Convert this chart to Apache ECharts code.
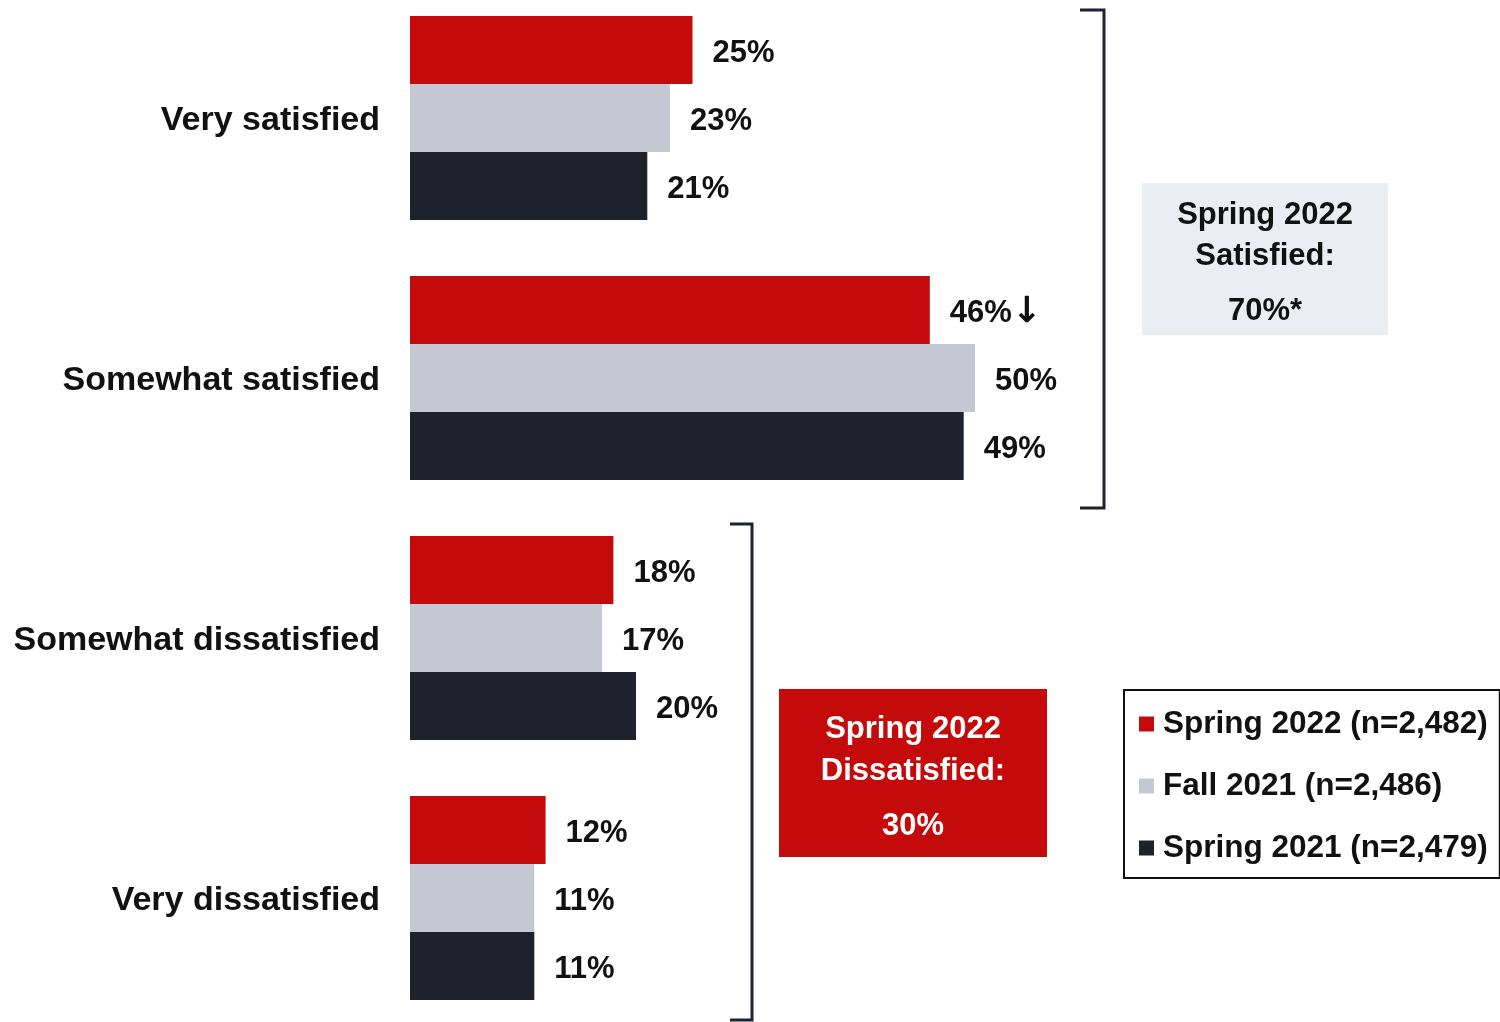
<!DOCTYPE html>
<html>
<head>
<meta charset="utf-8">
<title>Satisfaction by term</title>
<script src="https://cdn.jsdelivr.net/npm/echarts@6/dist/echarts.min.js"></script>
<style>
  html, body { margin: 0; padding: 0; background: #ffffff; }
  #chart { width: 1500px; height: 1022px; }
</style>
</head>
<body>
<div id="chart"></div>
<script>
// Response categories, top to bottom
const categories = ['Very satisfied', 'Somewhat satisfied', 'Somewhat dissatisfied', 'Very dissatisfied'];

// Survey waves
const seriesNames = ['Spring 2022 (n=2,482)', 'Fall 2021 (n=2,486)', 'Spring 2021 (n=2,479)'];

// Percent of respondents per category
const spring2022 = [25, 46, 18, 12];
const fall2021 = [23, 50, 17, 11];
const spring2021 = [21, 49, 20, 11];

// Significance markers appended to value labels (Spring 2022 only)
const spring2022Marks = ['', '↓', '', ''];

// Summary totals for the latest wave
const satisfiedTotal = '70%*';
const dissatisfiedTotal = '30%';

const colors = ['#c40a0a', '#c5c8d2', '#1f222d'];
const FONT = '"Liberation Sans", Arial, Helvetica, sans-serif';

function makeSeries(name, values, color, marks) {
  return {
    name: name,
    type: 'bar',
    data: values,
    barWidth: 68,
    barGap: '0%',
    itemStyle: { color: color },
    label: {
      show: true,
      position: 'right',
      distance: 20,
      offset: [0, 3],
      color: '#111111',
      fontFamily: FONT,
      fontWeight: 'bold',
      fontSize: 31,
      formatter: function (p) {
        const mark = marks ? marks[p.dataIndex] : '';
        return p.value + '%' + (mark ? '{arrow|' + mark + '}' : '');
      },
      rich: {
        arrow: {
          fontFamily: '"DejaVu Sans", sans-serif',
          fontWeight: 'bold',
          fontSize: 36,
          color: '#111111'
        }
      }
    }
  };
}

const chart = echarts.init(document.getElementById('chart'), null, { renderer: 'canvas' });

const bracketColor = '#1e2230';

chart.setOption({
  backgroundColor: '#ffffff',
  animation: false,
  color: colors,
  grid: { left: 410, top: -12, width: 678, height: 1040, outerBoundsMode: 'none', containLabel: false },
  xAxis: {
    type: 'value', min: 0, max: 60,
    show: false
  },
  yAxis: {
    type: 'category',
    data: categories,
    inverse: true,
    axisLine: { show: false },
    axisTick: { show: false },
    splitLine: { show: false },
    axisLabel: {
      margin: 30,
      formatter: function (v) { return '{cat|' + v + '}'; },
      rich: {
        cat: {
          color: '#111111',
          fontFamily: FONT,
          fontWeight: 'bold',
          fontSize: 34,
          padding: [6, 0, 0, 0]
        }
      }
    }
  },
  legend: {
    orient: 'vertical',
    left: 1124,
    top: 690,
    data: seriesNames,
    icon: 'rect',
    itemWidth: 15,
    itemHeight: 15,
    itemGap: 26,
    padding: [16, 12, 12, 15],
    borderColor: '#111111',
    borderWidth: 2,
    backgroundColor: '#ffffff',
    textStyle: {
      color: '#111111',
      fontFamily: FONT,
      fontWeight: 'bold',
      fontSize: 31.5,
      lineHeight: 36,
      padding: [0, 0, 0, 4]
    }
  },
  series: [
    makeSeries(seriesNames[0], spring2022, colors[0], spring2022Marks),
    makeSeries(seriesNames[1], fall2021, colors[1]),
    makeSeries(seriesNames[2], spring2021, colors[2])
  ],
  graphic: [
    // Bracket around the satisfied categories
    {
      type: 'polyline',
      shape: { points: [[1080, 10], [1104, 10], [1104, 508], [1080, 508]] },
      style: { stroke: bracketColor, lineWidth: 3, fill: null }
    },
    // Bracket around the dissatisfied categories
    {
      type: 'polyline',
      shape: { points: [[730, 524], [752, 524], [752, 1020], [730, 1020]] },
      style: { stroke: bracketColor, lineWidth: 3, fill: null }
    },
    // Satisfied summary box
    {
      type: 'rect',
      shape: { x: 1142, y: 183, width: 246, height: 152 },
      style: { fill: '#eaeef3' }
    },
    {
      type: 'text',
      x: 1265, y: 236,
      style: {
        text: 'Spring 2022\nSatisfied:',
        align: 'center', verticalAlign: 'middle',
        fontFamily: FONT, fontWeight: 'bold', fontSize: 31, lineHeight: 41,
        fill: '#111111'
      }
    },
    {
      type: 'text',
      x: 1265, y: 311,
      style: {
        text: satisfiedTotal,
        align: 'center', verticalAlign: 'middle',
        fontFamily: FONT, fontWeight: 'bold', fontSize: 31,
        fill: '#111111'
      }
    },
    // Dissatisfied summary box
    {
      type: 'rect',
      shape: { x: 779, y: 689, width: 268, height: 168 },
      style: { fill: '#c40a0a' }
    },
    {
      type: 'text',
      x: 913, y: 750,
      style: {
        text: 'Spring 2022\nDissatisfied:',
        align: 'center', verticalAlign: 'middle',
        fontFamily: FONT, fontWeight: 'bold', fontSize: 31, lineHeight: 42,
        fill: '#ffffff'
      }
    },
    {
      type: 'text',
      x: 913, y: 826,
      style: {
        text: dissatisfiedTotal,
        align: 'center', verticalAlign: 'middle',
        fontFamily: FONT, fontWeight: 'bold', fontSize: 31,
        fill: '#ffffff'
      }
    }
  ]
});
</script>
</body>
</html>
